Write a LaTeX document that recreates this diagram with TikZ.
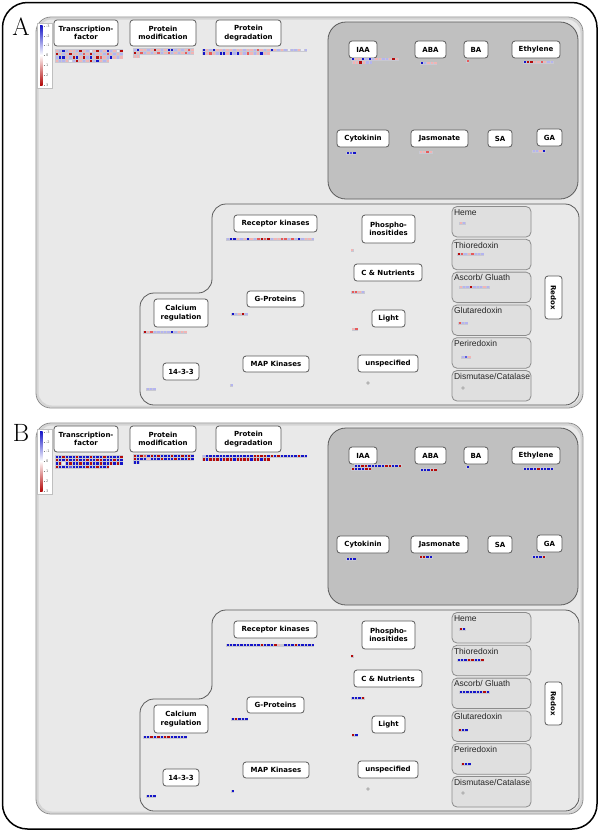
\documentclass[tikz,border=0pt]{standalone}
\usepackage{fontspec}
\newfontfamily\lblfont{DejaVu Sans}
\newfontfamily\subfont{Liberation Sans}
\usetikzlibrary{positioning}

\definecolor{panelFill}{HTML}{E9E9E9}
\definecolor{panelRim}{HTML}{D4D4D4}
\definecolor{panelLine}{HTML}{8C8C8C}
\definecolor{hormFill}{HTML}{C0C0C0}
\definecolor{boxLine}{HTML}{5A5A5A}
\definecolor{subFill}{HTML}{DFDFDF}
\definecolor{hmBg}{HTML}{C8C8D2}
\definecolor{cB}{HTML}{1414C8}
\definecolor{cb}{HTML}{5A5AE6}
\definecolor{cl}{HTML}{B4B4F0}
\definecolor{cw}{HTML}{ECECF4}
\definecolor{cp}{HTML}{F2B4B4}
\definecolor{cr}{HTML}{E65A5A}
\definecolor{cR}{HTML}{B40A0A}
\definecolor{cg}{HTML}{B4B4B4}
\definecolor{cn}{HTML}{C8C8D2}

% one row of heat map cells: x, y (top left), colour codes
\newcommand\hmrow[3]{%
  \foreach \c [count=\i from 0] in {#3} {
    \fill[hmBg] ({#1+3.4*\i},#2) rectangle +(3.4,3.4);
    \fill[fill=c\c] ({#1+3.4*\i+0.5},{#2+0.5}) rectangle +(2.4,2.4);
  }}

\begin{document}
\begin{tikzpicture}[x=1pt,y=-1pt,
  lbl/.style={draw=boxLine,fill=white,rounded corners=3,line width=0.8,inner sep=0,
              align=center,minimum height=17,
              font=\lblfont\bfseries\fontsize{7}{8.5}\selectfont},
  subbox/.style={draw=panelLine,fill=subFill,rounded corners=5,line width=0.8},
  subtxt/.style={inner sep=0.5,text=black!85,font=\subfont\fontsize{8.5}{9}\selectfont},
  hormbox/.style={draw=boxLine,fill=hormFill,rounded corners=18,line width=0.8},
  sigbox/.style={draw=boxLine,fill=panelFill,rounded corners=14,line width=0.8},
  legtxt/.style={inner sep=0,text=black!60,font=\lblfont\fontsize{3.5}{4}\selectfont},
  letter/.style={inner sep=0,font=\fontsize{25}{25}\selectfont}
]
  \useasboundingbox (0,0) rectangle (600,831);
  \fill[white] (0,0) rectangle (600,831);
  \draw[line width=1.5,rounded corners=25] (2.5,2.5) rectangle (597,829);

  % Panels A and B
  \foreach \p/\dy in {A/0,B/406} {
    \begin{scope}[shift={(0,\dy)}]
      \node[letter] (\p-letter) at (21,27) {\p};
      \fill[panelFill,rounded corners=15] (36,17) rectangle (583,408);
      \draw[panelRim,line width=2,rounded corners=14] (37.5,18.5) rectangle (581.5,406.5);
      \draw[panelLine,line width=0.8,rounded corners=15] (36,17) rectangle (583,408);

      % legend
      \draw[fill=white,draw=black!25,line width=0.4] (37,23) rectangle (52,88);
      \shade[top color=cB,bottom color=cR,middle color=white] (40,25) rectangle (42.5,85);
      \foreach \v [count=\k from 0] in {-3,-2,-1,0,1,2,3} {
        \draw[black!50,line width=0.3] (43.5,{26+9.8*\k}) -- (45,{26+9.8*\k});
        \node[legtxt,anchor=west] (\p-leg\k) at (45.8,{26+9.8*\k}) {\v};
      }

      % top row
      \node[lbl,minimum width=64,minimum height=26] (\p-tf)   at (86,33)    {Transcription-\\factor};
      \node[lbl,minimum width=66,minimum height=26] (\p-pmod) at (163,33)   {Protein\\modification};
      \node[lbl,minimum width=65,minimum height=26] (\p-pdeg) at (248.5,33) {Protein\\degradation};

      % hormones
      \draw[hormbox] (328,22) rectangle (578,199);
      \node[lbl,minimum width=28] (\p-iaa)  at (363,49.5)   {IAA};
      \node[lbl,minimum width=31] (\p-aba)  at (430.5,49.5) {ABA};
      \node[lbl,minimum width=24] (\p-ba)   at (476,49.5)   {BA};
      \node[lbl,minimum width=48] (\p-eth)  at (536,49.5)   {Ethylene};
      \node[lbl,minimum width=52] (\p-cyto) at (363,138.5)  {Cytokinin};
      \node[lbl,minimum width=57] (\p-jas)  at (439.5,138.5) {Jasmonate};
      \node[lbl,minimum width=24] (\p-sa)   at (500,138.5)  {SA};
      \node[lbl,minimum width=25] (\p-ga)   at (549.5,137.5) {GA};

      % signalling
      \draw[sigbox] (140,340) -- (140,293) -- (212,293) -- (212,204) -- (579,204)
        -- (579,405) -- (140,405) -- cycle;
      \node[lbl,minimum width=83] (\p-rk)    at (275.5,223.5) {Receptor kinases};
      \node[lbl,minimum width=53,minimum height=28] (\p-phos) at (388.5,229) {Phospho-\\inositides};
      \node[lbl,minimum width=68] (\p-cnut)  at (388,272.5)   {C \& Nutrients};
      \node[lbl,minimum width=57,minimum height=16] (\p-gprot) at (275.5,299) {G-Proteins};
      \node[lbl,minimum width=54,minimum height=28] (\p-calc) at (181,313) {Calcium\\regulation};
      \node[lbl,minimum width=33] (\p-light) at (388.5,318.5) {Light};
      \node[lbl,minimum width=36] (\p-t1433) at (181,371.5)   {14-3-3};
      \node[lbl,minimum width=66,minimum height=16] (\p-map) at (276,364) {MAP Kinases};
      \node[lbl,minimum width=60] (\p-unsp)  at (388,363.5)   {unspecified};

      % redox
      \foreach \t [count=\k from 0] in {Heme,Thioredoxin,Ascorb/ Gluath,Glutaredoxin,Periredoxin,Dismutase/Catalase} {
        \draw[subbox] (452,{206.5+32.8*\k}) rectangle +(79,30.5);
        \node[subtxt,anchor=north west] (\p-sub\k) at (453.3,{208.5+32.8*\k}) {\t};
      }
      \node[lbl,rotate=-90,minimum width=43] (\p-redox) at (553.5,297.5) {Redox};
    \end{scope}
  }

  % Panel A data
  \hmrow{55}{49}{p,l,B,l,p,p,l,R,p,l,w,p,R,l,p,B,l,p,w,R}
  \hmrow{55}{52.4}{R,p,l,p,R,p,p,l,r,p,R,l,p,p,l,r,p,l,p,l}
  \hmrow{55}{55.8}{l,B,B,p,l,R,B,p,R,l,B,p,R,r,p,l,B,p,l,p}
  \hmrow{55}{59.2}{p,l,l,p,w,l,R,p,l,p,R,l,B,p,l,p}
  \hmrow{133}{48}{l,B,p,p,l,p,R,p,l,p,B,B,l,p,l,p,r,p}
  \hmrow{133}{51.4}{R,p,r,l,p,l,p,r,l,p,r,l,p,l,p,r,l,p}
  \hmrow{133}{54.8}{p,p}
  \hmrow{202}{48.5}{B,p,l,B,p,p,l,p,p,l,p,p,l,p,p,l,r,p,l,p,B,p,l,p,l,w,l,l,p,w,l}
  \hmrow{202}{51.9}{B,p,r,p,l,B,B,p,B,l,B,p,l,r,p,l,p,B,p,p}
  \hmrow{351}{57.5}{B,p,p,B,l,B,l,p,p,l,l,p,R,p}
  \hmrow{352}{60.9}{p,p,R,p,l,l}
  \hmrow{420}{61.5}{B,l,p,p,p}
  \hmrow{466}{59.5}{r}
  \hmrow{523}{60.5}{B,R,R,p,p,r,p,l,l}
  \hmrow{346}{151.5}{B,b,B}
  \hmrow{419}{150.5}{p,p,r,p}
  \hmrow{532}{149.5}{l,l,p,B}
  \hmrow{226}{237.5}{l,B,B,p,l,p,B,p,l,r,R,r,R,l,p,p,r,r,l,r,l,B,l,p,p,l}
  \hmrow{350.5}{248.5}{p}
  \hmrow{351}{290.5}{r,r,p,l}
  \hmrow{231}{312.5}{B,l,p,R,l}
  \hmrow{143}{330.5}{R,p,r,l,l,l,l,l,B,l,p,p,p}
  \hmrow{351.5}{327.5}{p,r}
  \hmrow{146}{387.5}{l,l,l}
  \hmrow{230}{383.5}{l}
  \fill[cg] (368,383) circle (1.8);
  \hmrow{459}{221.5}{p,l}
  \hmrow{457}{252.5}{R,r,l,p,r,l,l,l}
  \hmrow{459}{285.5}{p,l,l,R,l,l,l,p,l}
  \hmrow{458}{321.5}{r,l,l}
  \hmrow{461}{355.5}{l,b,p}
  \fill[cg] (463,388) circle (1.8);

  % Panel B data
  \begin{scope}[shift={(0,406)}]
    \hmrow{55}{49}{B,B,R,B,B,B,R,B,B,B,R,B,B,B,R,B,B,B,B,R}
    \hmrow{55}{52.4}{R,B,B,R,B,B,R,B,B,R,B,B,R,R,B,B,B,R,B,B}
    \hmrow{55}{55.8}{B,R,w,B,R,B,B,R,B,B,R,B,B,R,B,B,R,B,R,B}
    \hmrow{55}{59.2}{R,B,B,B,b,B,B,B,B,R,B,B,R,B,B,R}
    \hmrow{133}{48}{R,B,R,r,B,R,B,R,B,B,B,R,B,B,R,B,R,B}
    \hmrow{133}{51.4}{R,B,B,B,p,B,B,B,R,B,B,B,R,B,B,B,R,B}
    \hmrow{133}{54.8}{B,B}
    \hmrow{202}{48.5}{l,B,B,B,B,B,B,B,B,B,B,B,B,B,B,R,R,R,R,B,R,B,R,B,B,B,B,B,R,B,B}
    \hmrow{202}{51.9}{R,B,R,R,R,B,R,R,R,B,R,R,R,R,B,R,R,B,R,R}
    \hmrow{354}{58}{B,B,R,R,B,B,B,B,B,R,R,B,B,R}
    \hmrow{351}{61.4}{R,B,B,B,R,R}
    \hmrow{420}{62}{B,B,B,R,R}
    \hmrow{466}{59.5}{B}
    \hmrow{523}{61}{B,B,B,B,R,B,B,B,B}
    \hmrow{346}{151.5}{B,B,B}
    \hmrow{419}{149.5}{R,R,B,B}
    \hmrow{532}{149}{B,B,B,R}
    \hmrow{226}{237.5}{B,B,B,B,B,B,B,B,B,B,R,B,B,B,R,p,n,B,B,B,R,B,B,B,B,B}
    \hmrow{350.5}{248.5}{R}
    \hmrow{351}{290.5}{B,B,B,R}
    \hmrow{231}{311.5}{B,R,B,B,B}
    \hmrow{143}{329.5}{B,B,R,B,R,B,R,R,B,B,B,B,B}
    \hmrow{351.5}{327.5}{R,B}
    \hmrow{146}{388.5}{B,B,B}
    \hmrow{231}{383.5}{B}
    \fill[cg] (368,383) circle (1.8);
    \hmrow{459}{221.5}{R,B}
    \hmrow{457}{252.5}{B,B,B,R,R,B,B,R}
    \hmrow{459}{284.5}{B,B,B,B,B,B,B,R,B}
    \hmrow{458}{322.5}{R,B,B}
    \hmrow{461}{356.5}{R,B,B}
    \fill[cg] (463,387) circle (1.8);
  \end{scope}
\end{tikzpicture}
\end{document}
